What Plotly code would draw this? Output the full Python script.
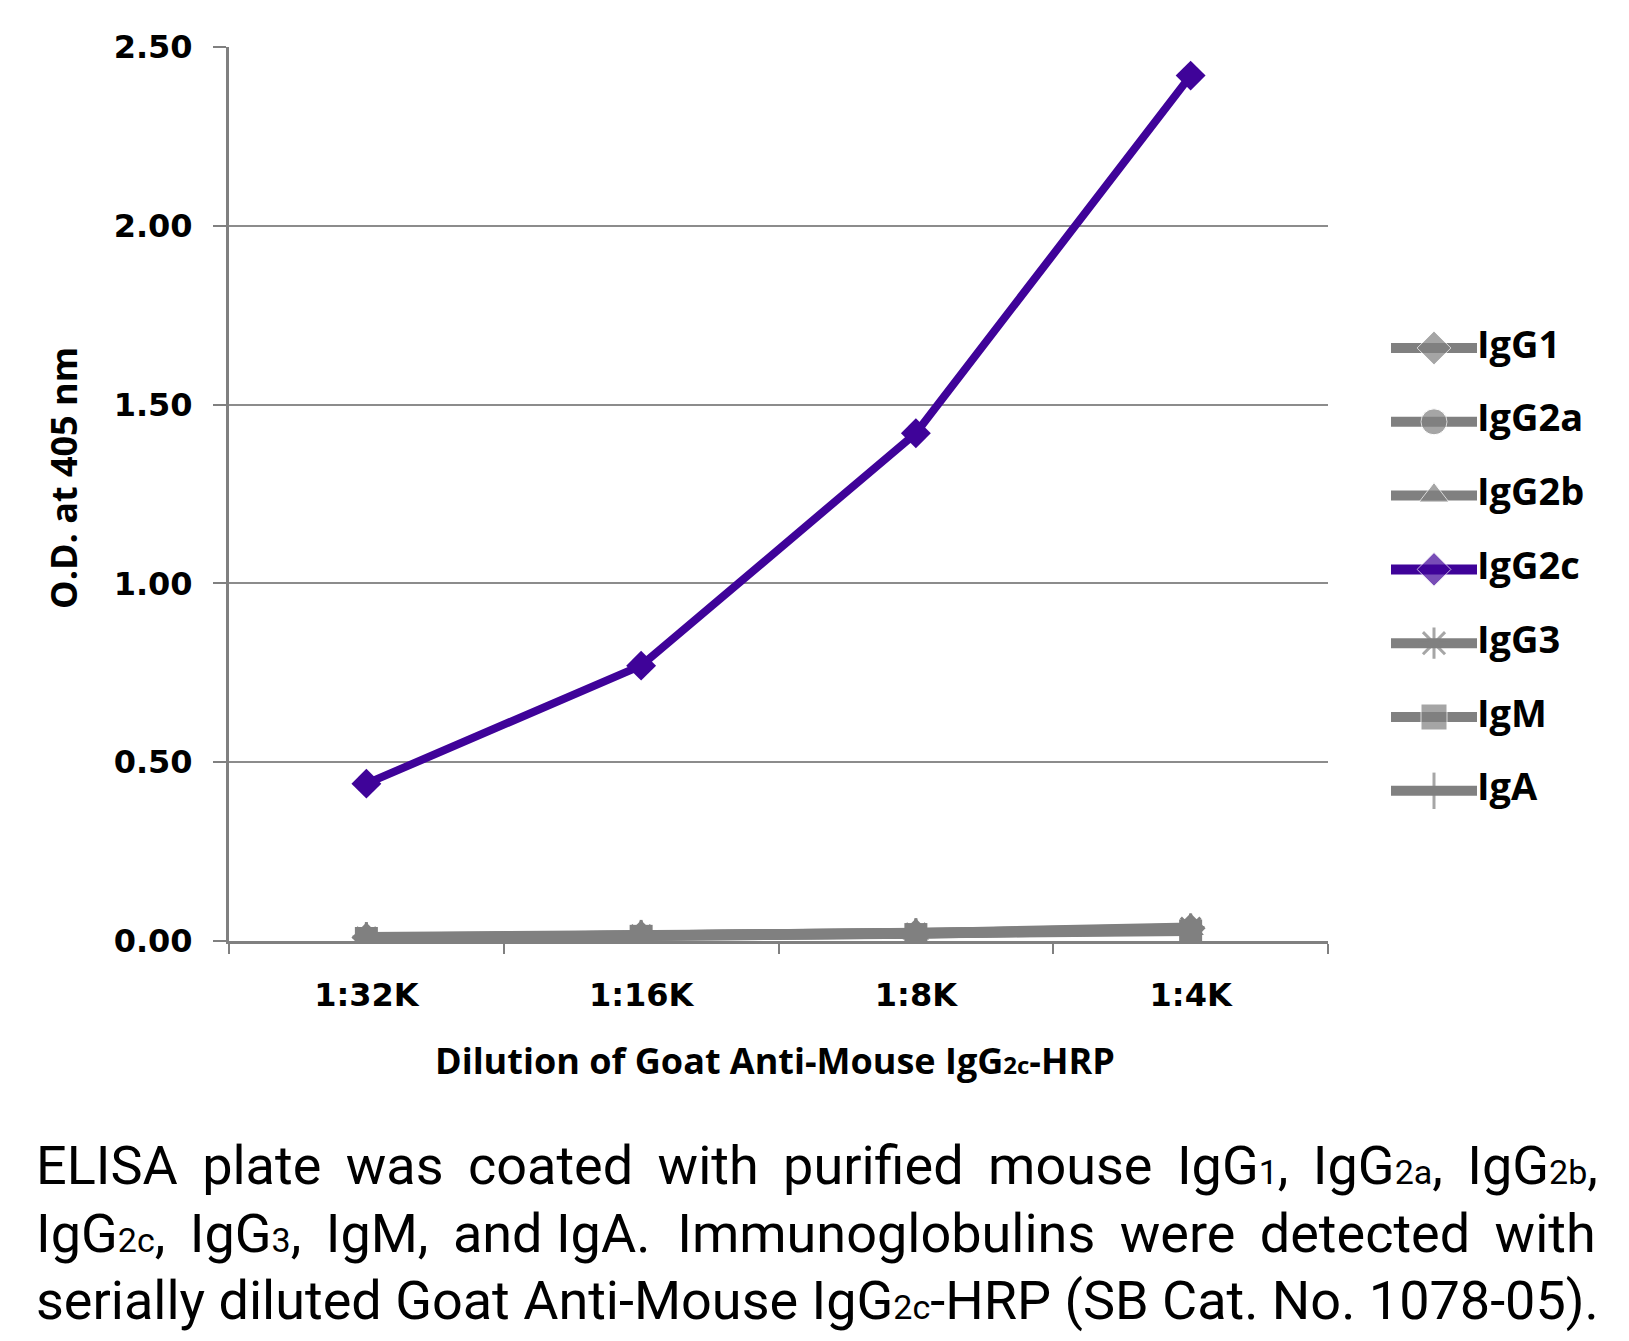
import plotly.graph_objects as go

# ---------------- data ----------------
dilutions = ["1:32K", "1:16K", "1:8K", "1:4K"]
series_names = ["IgG1", "IgG2a", "IgG2b", "IgG2c", "IgG3", "IgM", "IgA"]
igg1 = [0.010, 0.016, 0.021, 0.036]
igg2a = [0.008, 0.014, 0.019, 0.030]
igg2b = [0.009, 0.015, 0.020, 0.033]
igg2c = [0.44, 0.77, 1.42, 2.42]
igg3 = [0.011, 0.017, 0.022, 0.038]
igm = [0.007, 0.013, 0.018, 0.028]
iga = [0.008, 0.014, 0.019, 0.031]
values = [igg1, igg2a, igg2b, igg2c, igg3, igm, iga]
symbols = ["diamond", "circle", "triangle-up", "diamond", "asterisk-open", "square", "line-ns-open"]
y_ticks = [0, 0.5, 1.0, 1.5, 2.0, 2.5]

GRAY = "#808080"
PURPLE = "#3F0399"
colors = [PURPLE if n == "IgG2c" else GRAY for n in series_names]

# ---------------- layout geometry (reference pixels) ----------------
OFF = 8  # default page body margin
W, H = 1629 - 2 * OFF, 1341 - 2 * OFF
plot_left, plot_right, plot_top, plot_bottom = 229, 1328, 47, 941
L = plot_left - OFF
T = plot_top - OFF
R = 12
B = H - (plot_bottom - OFF)
PW, PH = W - L - R, H - T - B


def px(x):
    return (x - OFF - L) / PW


def py(y):
    return (plot_bottom - y) / PH


fig = go.Figure()

order = [i for i in range(len(series_names)) if series_names[i] != "IgG2c"] + [series_names.index("IgG2c")]
for i in order:
    name = series_names[i]
    is_main = name == "IgG2c"
    sym = symbols[i]
    mk = dict(symbol=sym, size=23, color=colors[i])
    if sym in ("asterisk-open", "line-ns-open"):
        mk["line"] = dict(color=colors[i], width=3)
    fig.add_trace(go.Scatter(
        x=dilutions, y=values[i], name=name, mode="lines+markers",
        line=dict(color=colors[i], width=8 if is_main else 10),
        marker=mk, showlegend=False, xaxis="x", yaxis="y",
    ))

# custom legend with long line samples, on its own small axes
for k, name in enumerate(series_names):
    sym = symbols[k]
    mk = dict(symbol=sym, size=[0, 26, 0], color=colors[k])
    if sym in ("asterisk-open", "line-ns-open"):
        mk["line"] = dict(color=colors[k], width=3)
    fig.add_trace(go.Scatter(
        x=[0, 0.5, 1], y=[k, k, k], mode="lines+markers",
        line=dict(color=colors[k], width=10), marker=mk,
        showlegend=False, xaxis="x2", yaxis="y2", hoverinfo="skip", cliponaxis=False,
    ))
    fig.add_trace(go.Scatter(
        x=[1], y=[k], mode="text", text=["<b>" + name + "</b>"], textposition="middle right",
        textfont=dict(family="Open Sans", size=38, color="black"),
        showlegend=False, xaxis="x2", yaxis="y2", hoverinfo="skip", cliponaxis=False,
    ))

leg_y0, leg_dy = 348, 73.8
y2_top = (plot_top - leg_y0) / leg_dy
y2_bot = (plot_bottom - leg_y0) / leg_dy

tick_font = dict(family="DejaVu Sans", size=32, color="black", weight="bold")
fig.update_layout(
    width=W, height=H,
    margin=dict(l=L, r=R, t=T, b=B),
    paper_bgcolor="white", plot_bgcolor="white",
    showlegend=False,
    xaxis=dict(
        domain=[0, px(plot_right)], type="category", range=[-0.5, 3.5],
        tickson="boundaries", ticks="outside", ticklen=10, tickwidth=2, tickcolor=GRAY,
        showline=True, linecolor=GRAY, linewidth=3, showgrid=False,
        tickfont=tick_font, ticklabelstandoff=24,
    ),
    yaxis=dict(
        range=[0, 2.5], tickvals=y_ticks, tickformat=".2f",
        ticks="outside", ticklen=13, tickwidth=2, tickcolor=GRAY,
        showline=True, linecolor=GRAY, linewidth=3,
        showgrid=True, gridcolor="#8c8c8c", gridwidth=2, zeroline=False,
        tickfont=tick_font, ticklabelstandoff=14,
    ),
    xaxis2=dict(domain=[px(1391), px(1477)], range=[0, 1], visible=False, anchor="y2"),
    yaxis2=dict(domain=[0, 1], range=[y2_bot, y2_top], visible=False, anchor="x2"),
)

SUB = '<span style="font-size:34px">{}</span>'
SUB_T = '<span style="font-size:24px">{}</span>'
annotations = [
    dict(text="<b>O.D. at 405 nm</b>", x=px(64), y=py(478), xref="paper", yref="paper",
         textangle=-90, showarrow=False, xanchor="center", yanchor="middle",
         font=dict(family="Open Sans", size=36, color="black")),
    dict(text="<b>Dilution of Goat Anti-Mouse IgG" + SUB_T.format("2c") + "-HRP</b>",
         x=px(775), y=py(1060),
         xref="paper", yref="paper", showarrow=False, xanchor="center", yanchor="middle",
         font=dict(family="Open Sans", size=36, color="black")),
]
TS = "\u2009"  # thin space used to approximate justified text
caption_lines = [
    "ELISA " + TS + "plate " + TS + "was " + TS + "coated " + TS + "with " + TS + "purified " + TS
    + "mouse " + TS + "IgG" + SUB.format("1") + ", " + TS + "IgG" + SUB.format("2a") + ", " + TS
    + "IgG" + SUB.format("2b") + ",",
    "IgG" + SUB.format("2c") + ", " + TS + "IgG" + SUB.format("3") + ", " + TS + "IgM, " + TS
    + "and IgA.  Immunoglobulins " + TS + "were " + TS + "detected " + TS + "with",
    "serially diluted Goat Anti-Mouse IgG" + SUB.format("2c") + "-HRP (SB Cat. No. 1078-05).",
]
caption_y = [1165, 1233, 1300]
for txt, yy in zip(caption_lines, caption_y):
    annotations.append(dict(
        text=txt, x=px(34), y=py(yy), xref="paper", yref="paper", showarrow=False,
        xanchor="left", yanchor="middle",
        font=dict(family="Roboto", size=54, color="black"),
    ))
fig.update_layout(annotations=annotations)

fig.write_html("out.html")
